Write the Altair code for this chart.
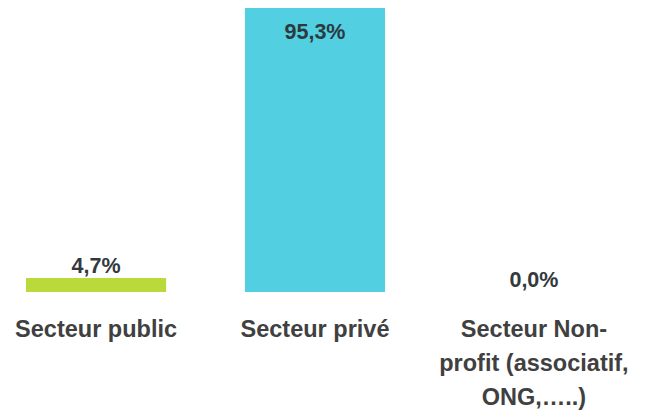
import altair as alt
import pandas as pd

categories = ["Secteur public", "Secteur privé", "Secteur Non-profit (associatif, ONG,…..)"]
cat_labels = ["Secteur public", "Secteur privé", "Secteur Non-\nprofit (associatif,\nONG,…..)"]
values = [4.7, 95.3, 0.0]
value_labels = ["4,7%", "95,3%", "0,0%"]
colors = ["#bada3c", "#52cfe0", "#9b9b9b"]

df = pd.DataFrame({"cat": categories, "label": cat_labels, "value": values, "vlabel": value_labels})

xs = alt.X("cat:N", sort=categories, axis=None,
           scale=alt.Scale(range=[18, 596], paddingInner=0.36, paddingOuter=0))
ys = alt.Y("value:Q", axis=None, scale=alt.Scale(domain=[0, 95.3], nice=False, zero=True))

base = alt.Chart(df)

bars = base.mark_bar().encode(
    x=xs, y=ys,
    color=alt.Color("cat:N", sort=categories,
                    scale=alt.Scale(domain=categories, range=colors), legend=None),
)

font = "Liberation Sans"
vtext_out = base.transform_filter("datum.value < 50").mark_text(
    font=font, fontSize=21.5, fontWeight="bold", color="#33393c",
    baseline="alphabetic", dy=-5
).encode(x=xs, y=ys, text="vlabel:N")

vtext_in = base.transform_filter("datum.value >= 50").mark_text(
    font=font, fontSize=21.5, fontWeight="bold", color="#2b3a40",
    baseline="alphabetic", dy=31
).encode(x=xs, y=ys, text="vlabel:N")

ctext = base.mark_text(
    font=font, fontSize=23.5, fontWeight="bold", color="#404040",
    baseline="alphabetic", lineBreak="\n", lineHeight=34
).encode(x=xs, y=alt.value(328.5), text="label:N")

chart = alt.layer(bars, vtext_out, vtext_in, ctext).properties(
    width=632, height=284,
    autosize=alt.AutoSizeParams(type="none"),
    padding={"left": 0, "top": 0, "right": 0, "bottom": 118},
).configure_view(stroke=None)

chart.save("out.html", embed_options={"renderer": "svg", "actions": False})
